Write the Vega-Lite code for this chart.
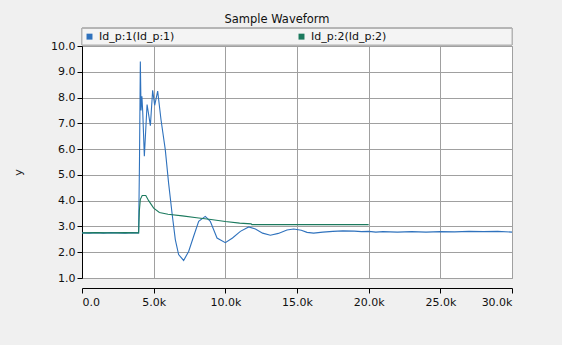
{
  "$schema": "https://vega.github.io/schema/vega-lite/v6.json",
  "autosize": "none",
  "width": 430,
  "height": 232,
  "padding": {"left": 82, "top": 46, "right": 50, "bottom": 67},
  "background": "#f0f0f0",
  "title": {"text": "Sample Waveform", "font": "DejaVu Sans", "fontSize": 11.5, "fontWeight": "normal", "color": "#111", "anchor": "middle", "dx": -20, "offset": 2},
  "config": {
    "view": {"fill": "white", "stroke": "#a0a0a0", "strokeWidth": 1},
    "axis": {"labelFont": "DejaVu Sans", "labelFontSize": 11, "labelColor": "#111", "gridColor": "#a0a0a0", "gridOpacity": 1, "gridWidth": 1, "domainColor": "#000", "tickColor": "#000", "tickSize": 5, "titleFont": "DejaVu Sans", "titleFontSize": 11, "titleFontWeight": "normal", "titleColor": "#222"}
  },
  "datasets": {
    "w": [
      {"x": 0, "y": 2.75, "s": "Id_p:1(Id_p:1)"},
      {"x": 500, "y": 2.74, "s": "Id_p:1(Id_p:1)"},
      {"x": 1000, "y": 2.76, "s": "Id_p:1(Id_p:1)"},
      {"x": 1500, "y": 2.74, "s": "Id_p:1(Id_p:1)"},
      {"x": 2000, "y": 2.76, "s": "Id_p:1(Id_p:1)"},
      {"x": 2500, "y": 2.75, "s": "Id_p:1(Id_p:1)"},
      {"x": 3000, "y": 2.74, "s": "Id_p:1(Id_p:1)"},
      {"x": 3500, "y": 2.76, "s": "Id_p:1(Id_p:1)"},
      {"x": 3950, "y": 2.75, "s": "Id_p:1(Id_p:1)"},
      {"x": 4010, "y": 5.5, "s": "Id_p:1(Id_p:1)"},
      {"x": 4070, "y": 9.4, "s": "Id_p:1(Id_p:1)"},
      {"x": 4120, "y": 7.5, "s": "Id_p:1(Id_p:1)"},
      {"x": 4180, "y": 8.05, "s": "Id_p:1(Id_p:1)"},
      {"x": 4240, "y": 7.4, "s": "Id_p:1(Id_p:1)"},
      {"x": 4350, "y": 5.72, "s": "Id_p:1(Id_p:1)"},
      {"x": 4540, "y": 7.73, "s": "Id_p:1(Id_p:1)"},
      {"x": 4770, "y": 6.91, "s": "Id_p:1(Id_p:1)"},
      {"x": 4930, "y": 8.28, "s": "Id_p:1(Id_p:1)"},
      {"x": 5070, "y": 7.7, "s": "Id_p:1(Id_p:1)"},
      {"x": 5280, "y": 8.25, "s": "Id_p:1(Id_p:1)"},
      {"x": 5510, "y": 7.15, "s": "Id_p:1(Id_p:1)"},
      {"x": 5810, "y": 5.98, "s": "Id_p:1(Id_p:1)"},
      {"x": 6040, "y": 4.69, "s": "Id_p:1(Id_p:1)"},
      {"x": 6280, "y": 3.52, "s": "Id_p:1(Id_p:1)"},
      {"x": 6510, "y": 2.49, "s": "Id_p:1(Id_p:1)"},
      {"x": 6740, "y": 1.91, "s": "Id_p:1(Id_p:1)"},
      {"x": 7090, "y": 1.68, "s": "Id_p:1(Id_p:1)"},
      {"x": 7440, "y": 2.03, "s": "Id_p:1(Id_p:1)"},
      {"x": 7790, "y": 2.62, "s": "Id_p:1(Id_p:1)"},
      {"x": 8140, "y": 3.2, "s": "Id_p:1(Id_p:1)"},
      {"x": 8600, "y": 3.39, "s": "Id_p:1(Id_p:1)"},
      {"x": 8950, "y": 3.2, "s": "Id_p:1(Id_p:1)"},
      {"x": 9420, "y": 2.55, "s": "Id_p:1(Id_p:1)"},
      {"x": 10000, "y": 2.37, "s": "Id_p:1(Id_p:1)"},
      {"x": 10500, "y": 2.55, "s": "Id_p:1(Id_p:1)"},
      {"x": 11050, "y": 2.81, "s": "Id_p:1(Id_p:1)"},
      {"x": 11630, "y": 2.98, "s": "Id_p:1(Id_p:1)"},
      {"x": 12100, "y": 2.9, "s": "Id_p:1(Id_p:1)"},
      {"x": 12600, "y": 2.74, "s": "Id_p:1(Id_p:1)"},
      {"x": 13140, "y": 2.66, "s": "Id_p:1(Id_p:1)"},
      {"x": 13700, "y": 2.73, "s": "Id_p:1(Id_p:1)"},
      {"x": 14300, "y": 2.86, "s": "Id_p:1(Id_p:1)"},
      {"x": 14770, "y": 2.9, "s": "Id_p:1(Id_p:1)"},
      {"x": 15300, "y": 2.85, "s": "Id_p:1(Id_p:1)"},
      {"x": 15700, "y": 2.77, "s": "Id_p:1(Id_p:1)"},
      {"x": 16160, "y": 2.74, "s": "Id_p:1(Id_p:1)"},
      {"x": 16800, "y": 2.78, "s": "Id_p:1(Id_p:1)"},
      {"x": 17500, "y": 2.81, "s": "Id_p:1(Id_p:1)"},
      {"x": 18200, "y": 2.83, "s": "Id_p:1(Id_p:1)"},
      {"x": 19000, "y": 2.82, "s": "Id_p:1(Id_p:1)"},
      {"x": 19500, "y": 2.8, "s": "Id_p:1(Id_p:1)"},
      {"x": 20000, "y": 2.81, "s": "Id_p:1(Id_p:1)"},
      {"x": 20500, "y": 2.78, "s": "Id_p:1(Id_p:1)"},
      {"x": 21000, "y": 2.8, "s": "Id_p:1(Id_p:1)"},
      {"x": 22000, "y": 2.78, "s": "Id_p:1(Id_p:1)"},
      {"x": 23000, "y": 2.8, "s": "Id_p:1(Id_p:1)"},
      {"x": 24000, "y": 2.78, "s": "Id_p:1(Id_p:1)"},
      {"x": 25000, "y": 2.8, "s": "Id_p:1(Id_p:1)"},
      {"x": 26000, "y": 2.79, "s": "Id_p:1(Id_p:1)"},
      {"x": 27000, "y": 2.81, "s": "Id_p:1(Id_p:1)"},
      {"x": 28000, "y": 2.8, "s": "Id_p:1(Id_p:1)"},
      {"x": 29000, "y": 2.81, "s": "Id_p:1(Id_p:1)"},
      {"x": 30000, "y": 2.78, "s": "Id_p:1(Id_p:1)"},
      {"x": 0, "y": 2.75, "s": "Id_p:2(Id_p:2)"},
      {"x": 1000, "y": 2.76, "s": "Id_p:2(Id_p:2)"},
      {"x": 2000, "y": 2.75, "s": "Id_p:2(Id_p:2)"},
      {"x": 3000, "y": 2.76, "s": "Id_p:2(Id_p:2)"},
      {"x": 3950, "y": 2.75, "s": "Id_p:2(Id_p:2)"},
      {"x": 4000, "y": 3.6, "s": "Id_p:2(Id_p:2)"},
      {"x": 4070, "y": 4.05, "s": "Id_p:2(Id_p:2)"},
      {"x": 4200, "y": 4.2, "s": "Id_p:2(Id_p:2)"},
      {"x": 4450, "y": 4.2, "s": "Id_p:2(Id_p:2)"},
      {"x": 4650, "y": 4.0, "s": "Id_p:2(Id_p:2)"},
      {"x": 5000, "y": 3.71, "s": "Id_p:2(Id_p:2)"},
      {"x": 5400, "y": 3.54, "s": "Id_p:2(Id_p:2)"},
      {"x": 6000, "y": 3.47, "s": "Id_p:2(Id_p:2)"},
      {"x": 7000, "y": 3.41, "s": "Id_p:2(Id_p:2)"},
      {"x": 8000, "y": 3.34, "s": "Id_p:2(Id_p:2)"},
      {"x": 9000, "y": 3.27, "s": "Id_p:2(Id_p:2)"},
      {"x": 10000, "y": 3.19, "s": "Id_p:2(Id_p:2)"},
      {"x": 11000, "y": 3.13, "s": "Id_p:2(Id_p:2)"},
      {"x": 11800, "y": 3.1, "s": "Id_p:2(Id_p:2)"},
      {"x": 11850, "y": 3.07, "s": "Id_p:2(Id_p:2)"},
      {"x": 20000, "y": 3.07, "s": "Id_p:2(Id_p:2)"}
    ]
  },
  "data": {"name": "w"},
  "encoding": {
    "x": {
      "field": "x", "type": "quantitative",
      "scale": {"domain": [0, 30000], "nice": false, "zero": false},
      "axis": {"title": null, "values": [0, 5000, 10000, 15000, 20000, 25000, 30000], "labelExpr": "datum.value == 0 ? '0.0' : format(datum.value / 1000, '.1f') + 'k'", "offset": 10, "labelPadding": 3}
    },
    "y": {
      "field": "y", "type": "quantitative",
      "scale": {"domain": [1, 10], "nice": false, "zero": false},
      "axis": {"title": "y", "values": [1, 2, 3, 4, 5, 6, 7, 8, 9, 10], "format": ".1f", "titleX": -59, "titleY": 126, "titleAngle": -90}
    }
  },
  "layer": [
    {
      "mark": {"type": "rect", "fill": "#f4f4f4", "stroke": "#b4b4b4", "strokeWidth": 1},
      "encoding": {
        "x": {"datum": 0, "type": "quantitative"},
        "x2": {"datum": 30000},
        "y": {"datum": 10.04, "type": "quantitative"},
        "y2": {"datum": 10.68}
      }
    },
    {
      "mark": {"type": "line", "strokeWidth": 1.1, "interpolate": "linear"},
      "encoding": {
        "color": {
          "field": "s", "type": "nominal",
          "scale": {"domain": ["Id_p:1(Id_p:1)", "Id_p:2(Id_p:2)"], "range": ["#2f72bd", "#1c7a5e"]},
          "legend": {
            "title": null, "orient": "none", "legendX": 0, "legendY": -17, "direction": "horizontal", "columns": 2,
            "symbolType": "square", "symbolSize": 6, "symbolStrokeWidth": 3.5, "labelFont": "DejaVu Sans", "labelFontSize": 11, "labelColor": "#111",
            "labelOffset": 4, "columnPadding": 118, "padding": 2
          }
        }
      }
    }
  ]
}
